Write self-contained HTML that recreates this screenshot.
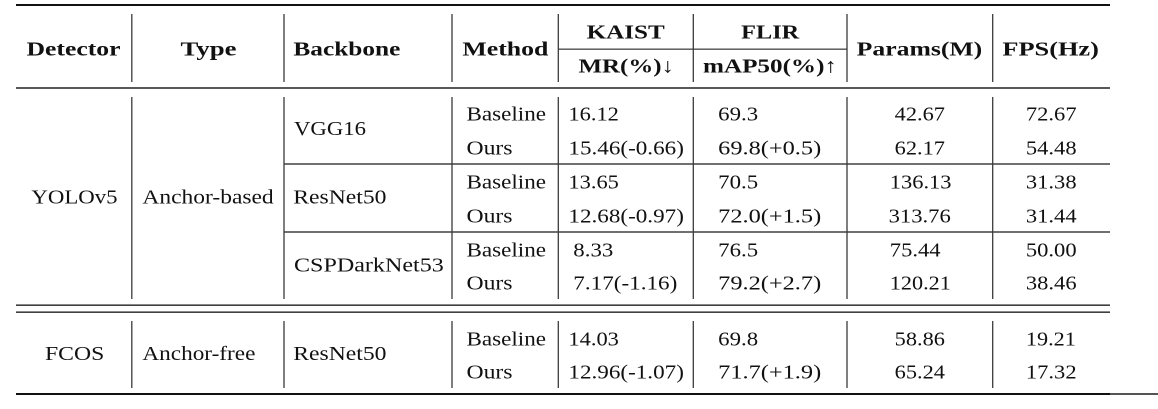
<!DOCTYPE html>
<html>
<head>
<meta charset="utf-8">
<style>
html,body{margin:0;padding:0;background:#fff;}
svg{display:block;}
text{font-family:"Liberation Serif","DejaVu Serif",serif;fill:#111;}
.b{font-weight:bold;font-size:20.3px;}
.r{font-size:20.5px;}
</style>
</head>
<body>
<svg width="1158" height="409" viewBox="0 0 1158 409" xmlns="http://www.w3.org/2000/svg">
<rect x="0" y="0" width="1158" height="409" fill="#fff"/>
<!-- horizontal rules -->
<rect x="16" y="4" width="1094" height="2" fill="#111"/>
<rect x="558" y="48.6" width="289" height="1.1" fill="#222"/>
<rect x="16" y="87.3" width="1094" height="1.4" fill="#111"/>
<rect x="284" y="163.4" width="826" height="1.2" fill="#111"/>
<rect x="284" y="231.4" width="826" height="1.2" fill="#111"/>
<rect x="16" y="304.5" width="1094" height="1.3" fill="#111"/>
<rect x="16" y="311.5" width="1094" height="1.3" fill="#111"/>
<rect x="16" y="393" width="1094" height="2" fill="#111"/>
<rect x="1110" y="393" width="48" height="2" fill="#555"/>
<!-- vertical lines -->
<g stroke="#3a3a3a" stroke-width="1.3">
<line x1="131.8" y1="14" x2="131.8" y2="82"/>
<line x1="284" y1="14" x2="284" y2="82"/>
<line x1="452" y1="14" x2="452" y2="82"/>
<line x1="558.3" y1="14" x2="558.3" y2="82"/>
<line x1="693.3" y1="14" x2="693.3" y2="82"/>
<line x1="847" y1="14" x2="847" y2="82"/>
<line x1="992.7" y1="14" x2="992.7" y2="82"/>

<line x1="131.8" y1="97" x2="131.8" y2="299"/>
<line x1="284" y1="97" x2="284" y2="299"/>
<line x1="452" y1="97" x2="452" y2="299"/>
<line x1="558.3" y1="97" x2="558.3" y2="299"/>
<line x1="693.3" y1="97" x2="693.3" y2="299"/>
<line x1="847" y1="97" x2="847" y2="299"/>
<line x1="992.7" y1="97" x2="992.7" y2="299"/>

<line x1="131.8" y1="321" x2="131.8" y2="388"/>
<line x1="284" y1="321" x2="284" y2="388"/>
<line x1="452" y1="321" x2="452" y2="388"/>
<line x1="558.3" y1="321" x2="558.3" y2="388"/>
<line x1="693.3" y1="321" x2="693.3" y2="388"/>
<line x1="847" y1="321" x2="847" y2="388"/>
<line x1="992.7" y1="321" x2="992.7" y2="388"/>
</g>

<!-- header -->
<g class="b">
<text x="26.5" y="55.7" textLength="94" lengthAdjust="spacingAndGlyphs">Detector</text>
<text x="180.5" y="55.7" textLength="56" lengthAdjust="spacingAndGlyphs">Type</text>
<text x="293.4" y="55.7" textLength="107" lengthAdjust="spacingAndGlyphs">Backbone</text>
<text x="462.4" y="55.7" textLength="86" lengthAdjust="spacingAndGlyphs">Method</text>
<text x="586.7" y="38.3" textLength="78" lengthAdjust="spacingAndGlyphs">KAIST</text>
<text x="741.2" y="38.3" textLength="58" lengthAdjust="spacingAndGlyphs">FLIR</text>
<text x="578.5" y="72.5" textLength="95.5" lengthAdjust="spacingAndGlyphs">MR(%)↓</text>
<text x="703" y="72.5" textLength="134" lengthAdjust="spacingAndGlyphs">mAP50(%)↑</text>
<text x="856.7" y="55.7" textLength="125.5" lengthAdjust="spacingAndGlyphs">Params(M)</text>
<text x="1002.4" y="55.7" textLength="96.5" lengthAdjust="spacingAndGlyphs">FPS(Hz)</text>
</g>

<!-- body -->
<g class="r">
<text x="31.4" y="203.3" textLength="86.2" lengthAdjust="spacingAndGlyphs">YOLOv5</text>
<text x="142.4" y="203.3" textLength="131.3" lengthAdjust="spacingAndGlyphs">Anchor-based</text>
<text x="294" y="135" textLength="72" lengthAdjust="spacingAndGlyphs">VGG16</text>
<text x="293.3" y="203.3" textLength="93.2" lengthAdjust="spacingAndGlyphs">ResNet50</text>
<text x="294" y="271.7" textLength="149.8" lengthAdjust="spacingAndGlyphs">CSPDarkNet53</text>

<text x="466.5" y="120.7" textLength="79.5" lengthAdjust="spacingAndGlyphs">Baseline</text>
<text x="466.5" y="154.6" textLength="46" lengthAdjust="spacingAndGlyphs">Ours</text>
<text x="466.5" y="188.7" textLength="79.5" lengthAdjust="spacingAndGlyphs">Baseline</text>
<text x="466.5" y="222.6" textLength="46" lengthAdjust="spacingAndGlyphs">Ours</text>
<text x="466.5" y="256.7" textLength="79.5" lengthAdjust="spacingAndGlyphs">Baseline</text>
<text x="466.5" y="289.7" textLength="46" lengthAdjust="spacingAndGlyphs">Ours</text>

<text x="568.4" y="120.7" textLength="50.5" lengthAdjust="spacingAndGlyphs">16.12</text>
<text x="568.4" y="154.6" textLength="115.5" lengthAdjust="spacingAndGlyphs">15.46(-0.66)</text>
<text x="568.4" y="188.7" textLength="50.5" lengthAdjust="spacingAndGlyphs">13.65</text>
<text x="568.4" y="222.6" textLength="115.5" lengthAdjust="spacingAndGlyphs">12.68(-0.97)</text>
<text x="573.3" y="256.7" textLength="40" lengthAdjust="spacingAndGlyphs">8.33</text>
<text x="573.3" y="289.7" textLength="104" lengthAdjust="spacingAndGlyphs">7.17(-1.16)</text>

<text x="718.2" y="120.7" textLength="40" lengthAdjust="spacingAndGlyphs">69.3</text>
<text x="718.2" y="154.6" textLength="103" lengthAdjust="spacingAndGlyphs">69.8(+0.5)</text>
<text x="718.2" y="188.7" textLength="40" lengthAdjust="spacingAndGlyphs">70.5</text>
<text x="718.2" y="222.6" textLength="103" lengthAdjust="spacingAndGlyphs">72.0(+1.5)</text>
<text x="718.2" y="256.7" textLength="40" lengthAdjust="spacingAndGlyphs">76.5</text>
<text x="718.2" y="289.7" textLength="103" lengthAdjust="spacingAndGlyphs">79.2(+2.7)</text>

<text x="894.7" y="120.7" textLength="50.3" lengthAdjust="spacingAndGlyphs">42.67</text>
<text x="894.7" y="154.6" textLength="50.3" lengthAdjust="spacingAndGlyphs">62.17</text>
<text x="889.8" y="188.7" textLength="61.7" lengthAdjust="spacingAndGlyphs">136.13</text>
<text x="888.6" y="222.6" textLength="62.2" lengthAdjust="spacingAndGlyphs">313.76</text>
<text x="889.8" y="256.7" textLength="50.7" lengthAdjust="spacingAndGlyphs">75.44</text>
<text x="889.8" y="289.7" textLength="61" lengthAdjust="spacingAndGlyphs">120.21</text>

<text x="1025.9" y="120.7" textLength="50.7" lengthAdjust="spacingAndGlyphs">72.67</text>
<text x="1025.9" y="154.6" textLength="50.7" lengthAdjust="spacingAndGlyphs">54.48</text>
<text x="1025.9" y="188.7" textLength="50.7" lengthAdjust="spacingAndGlyphs">31.38</text>
<text x="1025.9" y="222.6" textLength="50.7" lengthAdjust="spacingAndGlyphs">31.44</text>
<text x="1025.9" y="256.7" textLength="50.7" lengthAdjust="spacingAndGlyphs">50.00</text>
<text x="1025.9" y="289.7" textLength="50.7" lengthAdjust="spacingAndGlyphs">38.46</text>

<!-- bottom block -->
<text x="45" y="360" textLength="59.3" lengthAdjust="spacingAndGlyphs">FCOS</text>
<text x="142.4" y="360" textLength="113" lengthAdjust="spacingAndGlyphs">Anchor-free</text>
<text x="293.3" y="360" textLength="93.2" lengthAdjust="spacingAndGlyphs">ResNet50</text>
<text x="466.5" y="345.7" textLength="79.5" lengthAdjust="spacingAndGlyphs">Baseline</text>
<text x="466.5" y="378.7" textLength="46" lengthAdjust="spacingAndGlyphs">Ours</text>
<text x="568.4" y="345.7" textLength="50.5" lengthAdjust="spacingAndGlyphs">14.03</text>
<text x="568.4" y="378.7" textLength="115.5" lengthAdjust="spacingAndGlyphs">12.96(-1.07)</text>
<text x="718.2" y="345.7" textLength="40" lengthAdjust="spacingAndGlyphs">69.8</text>
<text x="718.2" y="378.7" textLength="103" lengthAdjust="spacingAndGlyphs">71.7(+1.9)</text>
<text x="894.7" y="345.7" textLength="50.3" lengthAdjust="spacingAndGlyphs">58.86</text>
<text x="894.7" y="378.7" textLength="50.3" lengthAdjust="spacingAndGlyphs">65.24</text>
<text x="1025.9" y="345.7" textLength="50" lengthAdjust="spacingAndGlyphs">19.21</text>
<text x="1025.9" y="378.7" textLength="50.7" lengthAdjust="spacingAndGlyphs">17.32</text>
</g>
</svg>
</body>
</html>
